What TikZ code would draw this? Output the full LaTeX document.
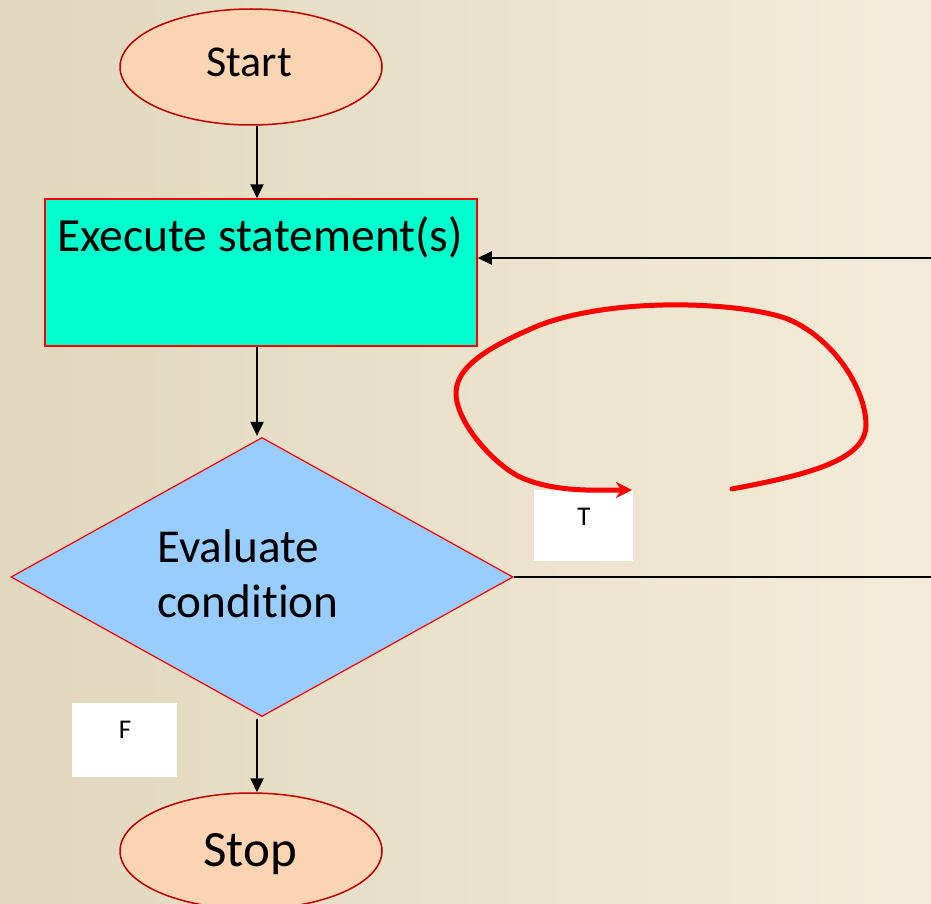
\documentclass[tikz,border=0pt]{standalone}
\usepackage{fontspec}
\setmainfont[Ligatures=NoCommon]{Carlito}
\usetikzlibrary{shapes.geometric,arrows.meta}
\definecolor{bgleft}{HTML}{E1D7BE}
\definecolor{bgright}{HTML}{F3ECD8}
\definecolor{peach}{HTML}{FBD4B4}
\definecolor{aqua}{HTML}{00FFCC}
\definecolor{skyblue}{HTML}{99CCFF}
\definecolor{darkred}{HTML}{C00000}
\tikzset{
  terminal/.style={ellipse, draw=darkred, line width=0.75pt, fill=peach,
    minimum width=131pt, minimum height=58pt, inner sep=0pt},
  process/.style={rectangle, draw=red, line width=0.75pt, fill=aqua,
    minimum width=216pt, minimum height=73.5pt, inner sep=0pt},
  decision/.style={diamond, draw=red, line width=0.6pt, fill=skyblue,
    minimum width=251pt, minimum height=139.5pt, inner sep=0pt},
  tagbox/.style={rectangle, fill=white, inner sep=0pt},
  bigtext/.style={font=\fontsize{23}{28}\selectfont, anchor=base, inner sep=0pt},
  tagtext/.style={font=\fontsize{13.5}{16}\selectfont, anchor=base, inner sep=0pt},
  flow/.style={line width=1pt, -{Triangle[length=7pt,width=6.5pt]}},
  plainline/.style={line width=1pt},
  loopmark/.style={red, line width=2.5pt, line cap=round,
    -{Stealth[length=8pt,width=8pt,inset=2.5pt]}}
}
\begin{document}
\begin{tikzpicture}[x=0.5pt,y=-0.5pt]
  \useasboundingbox (0,0) rectangle (931,904);
  \clip (0,0) rectangle (931,904);
  \shade[left color=bgleft, right color=bgright] (0,0) rectangle (931,904);

  % flow shapes
  \node[terminal] (start) at (251,67) {};
  \node[bigtext, font=\fontsize{22}{26}\selectfont] (starttxt) at (249,77) {Start};

  \node[process] (exec) at (261,272.5) {};
  \node[bigtext, font=\fontsize{23.8}{28}\selectfont] (exectxt) at (260,251) {Execute statement(s)};

  \node[decision] (cond) at (262,577) {};
  \node[bigtext, anchor=base west, font=\fontsize{23.6}{28}\selectfont] (condtxt1) at (157,562) {Evaluate};
  \node[bigtext, anchor=base west, font=\fontsize{23.6}{28}\selectfont] (condtxt2) at (157,617) {condition};

  \node[terminal] (stop) at (251,851) {};
  \node[bigtext, font=\fontsize{25.5}{30}\selectfont] (stoptxt) at (250,866) {Stop};

  % branch labels
  \node[tagbox, minimum width=49.5pt, minimum height=35.5pt] (tbox) at (583.5,525) {};
  \node[tagtext] (ttxt) at (584,525) {T};
  \node[tagbox, minimum width=52.5pt, minimum height=37pt] (fbox) at (124.5,740) {};
  \node[tagtext] (ftxt) at (125,738) {F};

  % main flow
  \coordinate (axis) at (257,0);
  \draw[flow] (start.south -| axis) -- (exec.north -| axis);
  \draw[flow] (exec.south -| axis) -- ([yshift=0.5pt]cond.north -| axis);
  \draw[flow] ([yshift=-1pt]cond.south -| axis) -- (stop.north -| axis);

  % loop back on true
  \coordinate (edgeout) at (931,577);
  \coordinate (edgein) at (931,258);
  \draw[plainline] (cond.east) -- (edgeout);
  \draw[flow] (edgein) -- (edgein -| exec.east);

  % hand-drawn loop mark
  \coordinate (loopstart) at (732,489);
  \coordinate (loopend) at (632,490);
  \draw[loopmark] (loopstart)
    .. controls (800,476) and (866,462) .. (866,425)
    .. controls (866,390) and (835,340) .. (790,320)
    .. controls (750,303) and (620,295) .. (540,325)
    .. controls (480,350) and (455,370) .. (456,395)
    .. controls (458,425) and (495,465) .. (520,477)
    .. controls (555,493) and (600,490) .. (loopend);
\end{tikzpicture}
\end{document}
